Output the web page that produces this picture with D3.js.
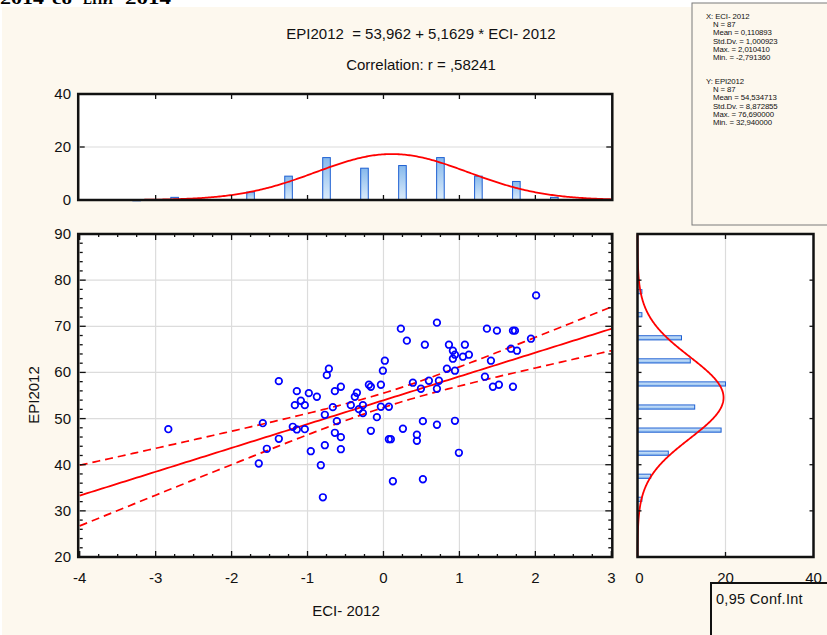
<!DOCTYPE html>
<html>
<head>
<meta charset="utf-8">
<script src="https://cdn.jsdelivr.net/npm/d3@7"></script>
<style>
  body { margin: 0; background: #fff; }
  text { font-family: "Liberation Sans", Arial, sans-serif; }
</style>
</head>
<body>
<svg id="chart" width="827" height="635"></svg>
<script>
// --- scatter data ---
const eci = [-2.833,-1.642,-1.589,-1.536,-1.378,-1.378,-1.194,-1.167,-1.141,-1.141,
  -1.088,-1.036,-1.036,-0.983,-0.957,-0.877,-0.825,-0.798,-0.772,-0.772,
  -0.746,-0.719,-0.667,-0.640,-0.640,-0.614,-0.561,-0.561,-0.561,-0.430,
  -0.377,-0.350,-0.324,-0.271,-0.271,-0.192,-0.166,-0.166,-0.087,-0.034,
  -0.034,-0.008,0.018,0.071,0.071,0.097,0.124,0.229,0.256,0.308,
  0.387,0.440,0.440,0.493,0.519,0.519,0.545,0.598,0.704,0.704,
  0.704,0.730,0.835,0.862,0.914,0.914,0.941,0.941,0.941,0.993,
  1.046,1.072,1.125,1.336,1.362,1.415,1.441,1.494,1.520,1.679,
  1.705,1.731,1.705,1.758,1.942,2.010]
const epi = [47.70,40.26,49.00,43.45,58.11,45.62,48.22,52.91,55.94,47.64,
  53.86,52.91,47.70,55.51,42.93,54.73,39.89,32.94,50.82,44.23,
  59.41,60.80,52.47,55.94,46.92,49.44,56.90,45.97,43.36,52.91,
  54.73,55.60,52.04,52.91,51.17,57.33,56.90,47.35,50.30,57.33,
  52.56,60.37,62.54,52.56,45.53,45.53,36.42,69.48,47.79,66.88,
  57.77,46.49,45.18,56.46,49.44,36.85,66.01,58.20,70.78,56.46,
  48.66,58.20,60.80,66.01,64.71,62.97,63.84,60.37,49.52,42.58,
  63.41,66.01,63.84,59.07,69.48,62.54,56.90,69.05,57.33,65.14,
  69.05,69.05,56.90,64.71,67.31,76.69]

// --- marginal histograms (bin centres and counts) ---
const eciBins = [-3.25,-2.75,-1.75,-1.25,-0.75,-0.25,0.25,0.75,1.25,1.75,2.25]
const eciCounts = [0,1,3,9,16,12,13,16,9,7,1]
const epiBins = [27.5,32.5,37.5,42.5,47.5,52.5,57.5,62.5,67.5,72.5,77.5]
const epiCounts = [0,1,3,7,19,13,20,12,10,1,1]

// --- summary stats shown in the box ---
const statN = 87
const xMean = 0.110893, xSd = 1.000923
const yMean = 54.534713, ySd = 8.872855
const intercept = 53.962, slope = 5.1629, corr = 0.58241
const statLinesX = ['X: ECI- 2012','N = 87','Mean = 0,110893','Std.Dv. = 1,000923','Max. = 2,010410','Min. = -2,791360']
const statLinesY = ['Y: EPI2012','N = 87','Mean = 54,534713','Std.Dv. = 8,872855','Max. = 76,690000','Min. = 32,940000']

const xTicks = [-4,-3,-2,-1,0,1,2,3]
const yTicks = [20,30,40,50,60,70,80,90]
const histTicks = [0,20,40]

const svg = d3.select('#chart')
const black = '#111'

// background
svg.append('rect').attr('x', 2).attr('y', 7).attr('width', 825).attr('height', 628).attr('fill', '#fdf8ee')

// clipped heading text from the page above
const head = [['2014', 0, 44], ['со', 52, 20], ['ЕПИ', 83, 30], ['2014', 125, 46]]
head.forEach(h => {
  svg.append('text').attr('x', h[1]).attr('y', 4)
    .attr('textLength', h[2]).attr('lengthAdjust', 'spacingAndGlyphs')
    .style('font-family', '"Liberation Serif", serif').style('font-weight', 'bold')
    .style('font-size', '16px').text(h[0])
})

// gradients for bars
const defs = svg.append('defs')
const g1 = defs.append('linearGradient').attr('id', 'barV').attr('x1', 0).attr('y1', 0).attr('x2', 0).attr('y2', 1)
g1.append('stop').attr('offset', '0%').attr('stop-color', '#86b9ec')
g1.append('stop').attr('offset', '100%').attr('stop-color', '#dcecfb')
const g2 = defs.append('linearGradient').attr('id', 'barH').attr('x1', 0).attr('y1', 0).attr('x2', 0).attr('y2', 1)
g2.append('stop').attr('offset', '0%').attr('stop-color', '#d6e9fb')
g2.append('stop').attr('offset', '100%').attr('stop-color', '#8fbdee')

// --- scales ---
const x = d3.scaleLinear().domain([-4, 3]).range([79.7, 611.3])
const y = d3.scaleLinear().domain([20, 90]).range([557, 234])
const yTop = d3.scaleLinear().domain([0, 40]).range([200, 94])
const xRight = d3.scaleLinear().domain([0, 40]).range([637.5, 813.5])

function frame(x0, y0, x1, y1) {
  svg.append('rect').attr('x', x0).attr('y', y0).attr('width', x1 - x0).attr('height', y1 - y0)
    .attr('fill', 'none').attr('stroke', black).attr('stroke-width', 2.5)
}
function tick(x1, y1, x2, y2) {
  svg.append('line').attr('x1', x1).attr('y1', y1).attr('x2', x2).attr('y2', y2)
    .attr('stroke', black).attr('stroke-width', 1.3)
}
function label(tx, ty, s, anchor) {
  svg.append('text').attr('x', tx).attr('y', ty).attr('text-anchor', anchor || 'middle')
    .style('font-size', '15px').attr('fill', black).text(s)
}

// --- titles ---
svg.append('text').attr('x', 421).attr('y', 39).attr('text-anchor', 'middle')
  .style('font-size', '15px').attr('fill', black).attr('xml:space', 'preserve')
  .text('EPI2012  = 53,962 + 5,1629 * ECI- 2012')
svg.append('text').attr('x', 421).attr('y', 70).attr('text-anchor', 'middle')
  .style('font-size', '15px').attr('fill', black).text('Correlation: r = ,58241')

// --- stats box ---
svg.append('rect').attr('x', 692).attr('y', 3).attr('width', 140).attr('height', 222)
  .attr('fill', '#fdf8ee').attr('stroke', '#7a7a7a').attr('stroke-width', 1)
function statBlock(lines, top) {
  lines.forEach((s, i) => {
    svg.append('text').attr('x', i === 0 ? 706 : 713).attr('y', top + i * 8.2)
      .style('font-size', '7.8px').style('letter-spacing', '-0.1px').attr('fill', black).text(s)
  })
}
statBlock(statLinesX, 19)
statBlock(statLinesY, 84)

// ================= main scatter =================
svg.append('rect').attr('x', x(-4)).attr('y', y(90)).attr('width', x(3) - x(-4)).attr('height', y(20) - y(90)).attr('fill', '#fff')
svg.append('g').selectAll('line').data(xTicks.slice(1, -1)).join('line')
  .attr('x1', d => x(d)).attr('x2', d => x(d)).attr('y1', y(90)).attr('y2', y(20))
  .attr('stroke', '#dcdcdc').attr('stroke-width', 1.2)
svg.append('g').selectAll('line').data(yTicks.slice(1, -1)).join('line')
  .attr('x1', x(-4)).attr('x2', x(3)).attr('y1', d => y(d)).attr('y2', d => y(d))
  .attr('stroke', '#dcdcdc').attr('stroke-width', 1.2)

// confidence band + regression line
const tCrit = 1.9883
const sxx = (statN - 1) * xSd * xSd
const se = ySd * Math.sqrt(1 - corr * corr) * Math.sqrt((statN - 1) / (statN - 2))
const xsLine = d3.range(-4, 3.0001, 0.05)
const half = v => tCrit * se * Math.sqrt(1 / statN + (v - xMean) * (v - xMean) / sxx)
const line = d3.line().x(d => x(d[0])).y(d => y(d[1]))
svg.append('path').datum(xsLine.map(v => [v, intercept + slope * v]))
  .attr('d', line).attr('fill', 'none').attr('stroke', '#f00').attr('stroke-width', 1.8)
svg.append('path').datum(xsLine.map(v => [v, intercept + slope * v + half(v)]))
  .attr('d', line).attr('fill', 'none').attr('stroke', '#f00').attr('stroke-width', 1.7).attr('stroke-dasharray', '8,5')
svg.append('path').datum(xsLine.map(v => [v, intercept + slope * v - half(v)]))
  .attr('d', line).attr('fill', 'none').attr('stroke', '#f00').attr('stroke-width', 1.7).attr('stroke-dasharray', '8,5')

// points
svg.append('g').selectAll('circle').data(eci.map((v, i) => [v, epi[i]])).join('circle')
  .attr('cx', d => x(d[0])).attr('cy', d => y(d[1])).attr('r', 3.3)
  .attr('fill', 'none').attr('stroke', '#0000ff').attr('stroke-width', 1.7)

// ticks
d3.range(-4, 3.001, 0.25).forEach(v => {
  const major = Math.abs(v - Math.round(v)) < 1e-6
  const len = major ? 6 : 3
  tick(x(v), y(20), x(v), y(20) - len)
  tick(x(v), y(90), x(v), y(90) + len)
})
d3.range(20, 90.001, 2).forEach(v => {
  const major = v % 10 === 0
  const len = major ? 6 : 3
  tick(x(-4), y(v), x(-4) + len, y(v))
  tick(x(3), y(v), x(3) - len, y(v))
})
frame(x(-4) - 1.5, y(90), x(3) + 1, y(20))
xTicks.forEach(t => label(x(t), 583, String(t)))
yTicks.forEach(t => label(71, y(t) + 5, String(t), 'end'))
label(346, 616, 'ECI- 2012')
svg.append('text').attr('transform', 'translate(39,' + 395 + ') rotate(-90)').attr('text-anchor', 'middle')
  .style('font-size', '15px').attr('fill', black).text('EPI2012')

// ================= top histogram =================
svg.append('rect').attr('x', x(-4)).attr('y', yTop(40)).attr('width', x(3) - x(-4)).attr('height', yTop(0) - yTop(40)).attr('fill', '#fff')
svg.append('line').attr('x1', x(-4)).attr('x2', x(3)).attr('y1', yTop(20)).attr('y2', yTop(20))
  .attr('stroke', '#dcdcdc').attr('stroke-width', 1.2)
const bwX = 0.5
svg.append('g').selectAll('rect').data(eciBins.map((b, i) => [b, eciCounts[i]])).join('rect')
  .attr('x', d => x(d[0] - bwX * 0.1)).attr('width', x(bwX * 0.2) - x(0))
  .attr('y', d => yTop(d[1])).attr('height', d => Math.max(0.8, yTop(0) - yTop(d[1])))
  .attr('fill', 'url(#barV)').attr('stroke', '#1d5fd2').attr('stroke-width', 1)
const xsCurve = d3.range(-4, 3.0001, 0.02)
svg.append('path').datum(xsCurve.map(v => [v, statN * bwX * Math.exp(-0.5 * ((v - xMean) / xSd) ** 2) / (xSd * Math.sqrt(2 * Math.PI))]))
  .attr('d', d3.line().x(d => x(d[0])).y(d => yTop(d[1])))
  .attr('fill', 'none').attr('stroke', '#f00').attr('stroke-width', 1.8)
xTicks.slice(1, -1).forEach(t => {
  tick(x(t), yTop(0), x(t), yTop(0) - 5)
  tick(x(t), yTop(40), x(t), yTop(40) + 5)
})
tick(x(-4), yTop(20), x(-4) + 5, yTop(20))
tick(x(3), yTop(20), x(3) - 5, yTop(20))
frame(x(-4) - 1.5, yTop(40), x(3) + 1, yTop(0))
histTicks.forEach(t => label(71, yTop(t) + 5, String(t), 'end'))

// ================= right histogram =================
svg.append('rect').attr('x', xRight(0)).attr('y', y(90)).attr('width', xRight(40) - xRight(0)).attr('height', y(20) - y(90)).attr('fill', '#fff')
svg.append('line').attr('x1', xRight(20)).attr('x2', xRight(20)).attr('y1', y(90)).attr('y2', y(20))
  .attr('stroke', '#dcdcdc').attr('stroke-width', 1.2)
const bwY = 5
svg.append('g').selectAll('rect').data(epiBins.map((b, i) => [b, epiCounts[i]])).join('rect')
  .attr('x', xRight(0)).attr('width', d => Math.max(0.8, xRight(d[1]) - xRight(0)))
  .attr('y', d => y(d[0] + bwY * 0.09)).attr('height', y(0) - y(bwY * 0.18))
  .attr('fill', 'url(#barH)').attr('stroke', '#1d5fd2').attr('stroke-width', 1)
const ysCurve = d3.range(20, 90.0001, 0.1)
svg.append('path').datum(ysCurve.map(v => [statN * bwY * Math.exp(-0.5 * ((v - yMean) / ySd) ** 2) / (ySd * Math.sqrt(2 * Math.PI)), v]))
  .attr('d', d3.line().x(d => xRight(d[0])).y(d => y(d[1])))
  .attr('fill', 'none').attr('stroke', '#f00').attr('stroke-width', 1.8)
yTicks.slice(1, -1).forEach(t => {
  tick(xRight(0), y(t), xRight(0) + 4, y(t))
  tick(xRight(40), y(t), xRight(40) - 4, y(t))
})
tick(xRight(20), y(90), xRight(20), y(90) + 5)
tick(xRight(20), y(20), xRight(20), y(20) - 5)
frame(xRight(0), y(90), xRight(40), y(20))
histTicks.forEach(t => label(xRight(t) + (t === 0 ? 2 : 0), 583, String(t)))

// legend box (cut by the page edge)
svg.append('rect').attr('x', 711).attr('y', 583).attr('width', 140).attr('height', 70)
  .attr('fill', '#fdf8ee').attr('stroke', black).attr('stroke-width', 2)
svg.append('text').attr('x', 716).attr('y', 604).style('font-size', '14.5px').attr('fill', black)
  .style('letter-spacing', '0.3px').text('0,95 Conf.Int')
</script>
</body>
</html>
